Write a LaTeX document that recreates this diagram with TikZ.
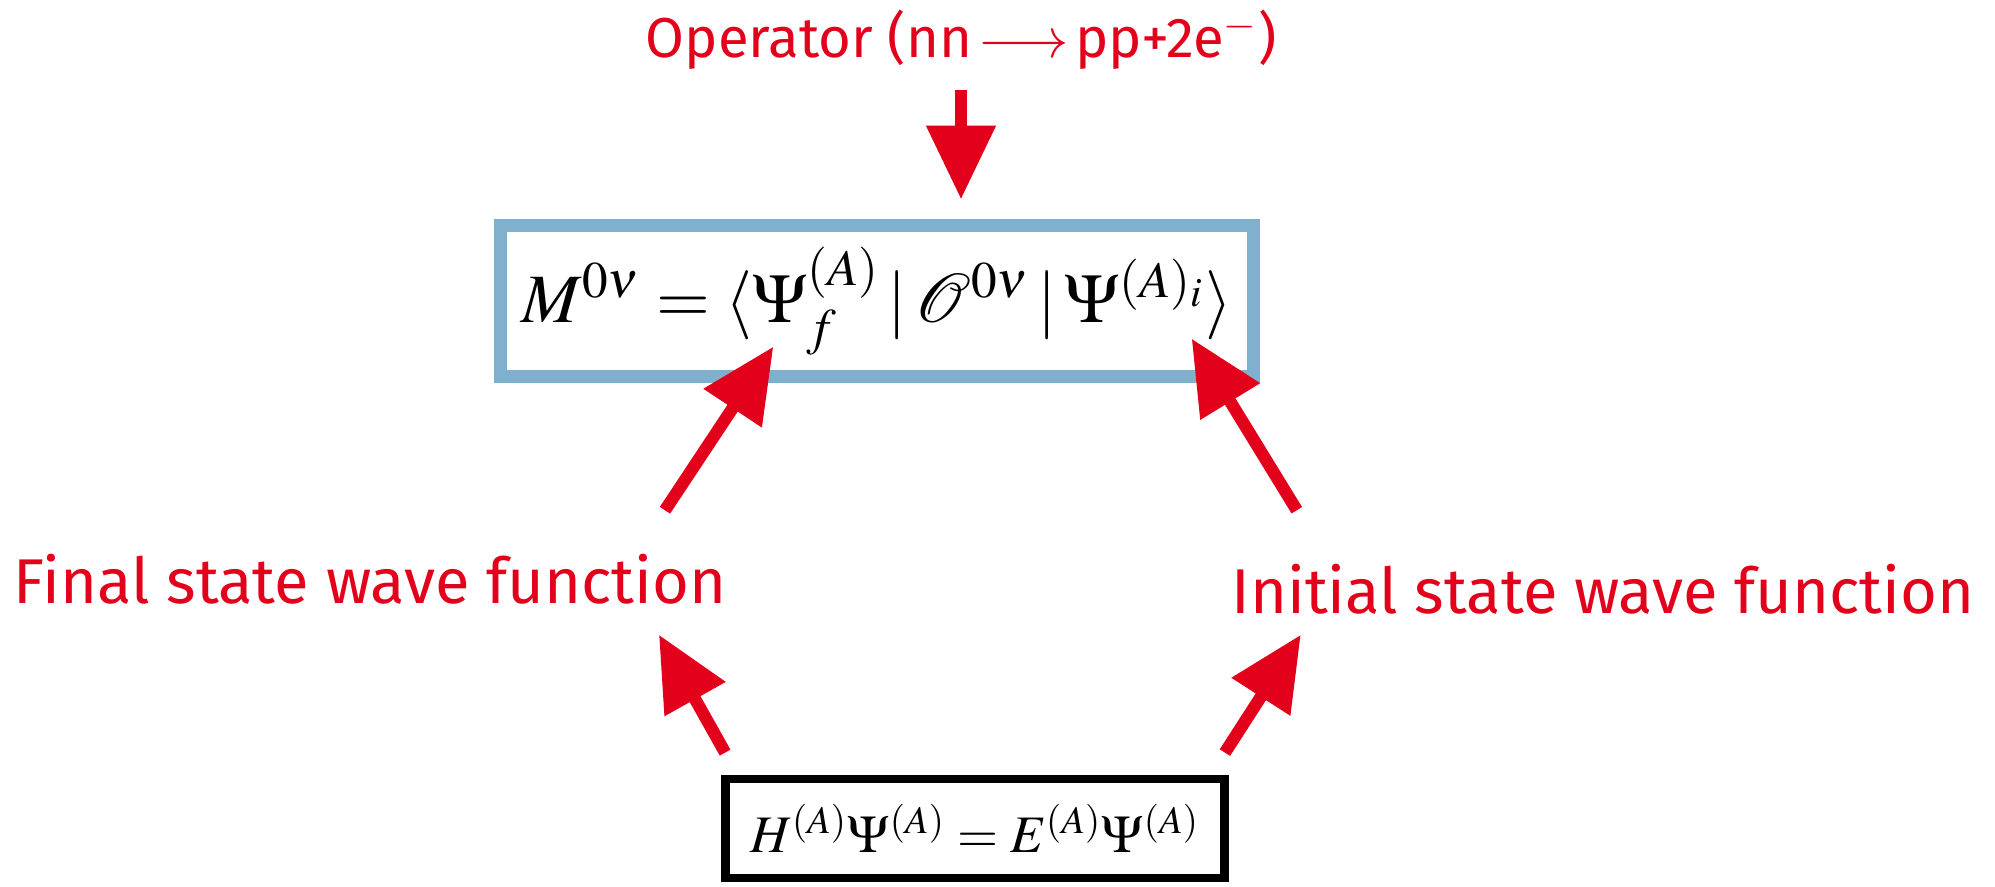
\documentclass[tikz,border=0pt]{standalone}
\usepackage{mathptmx}
\usepackage[no-math]{fontspec}
\newfontfamily\handfont{Fira Sans}
\usepackage{xcolor}
\definecolor{penred}{HTML}{E3001B}
\definecolor{chalkblue}{HTML}{7FB1CF}
\usetikzlibrary{arrows.meta, positioning, calc}

\begin{document}
\begin{tikzpicture}

\tikzset{
  handlbl/.style={font=\handfont\fontsize{18}{20}\selectfont, penred, inner sep=0pt},
  redarrow/.style={-{Triangle[length=21pt, width=19pt]}, penred, line width=3.5pt},
  mebox/.style={draw=chalkblue, line width=3.5pt, minimum width=7.53cm, minimum height=1.51cm, inner sep=0pt},
  eigbox/.style={draw=black, line width=2.5pt, minimum width=4.99cm, minimum height=0.99cm, inner sep=0pt},
}

  \useasboundingbox (0,0) rectangle (19.95,8.86);

  % ── Operator on top ───────────────────────────────────────
  \node[handlbl, font=\handfont\fontsize{16}{18}\selectfont] (op) at (9.61, 8.46)
    {Operator (nn$\,\longrightarrow\,$pp+2e$^{-}$)};

  % ── Matrix element ────────────────────────────────────────
  \node[mebox, font=\fontsize{19.7}{23}\selectfont] (matrixel) at (8.77, 5.85)
    {$M^{0\nu} = \langle \Psi^{(A)}_{f} \,|\, \mathcal{O}^{0\nu} \,|\, \Psi^{(A)_{i}} \rangle$};

  % ── Wave function labels ──────────────────────────────────
  \node[handlbl] (final) at (3.70, 3.07) {Final state wave function};
  \node[handlbl] (initial) at (16.03, 2.97) {Initial state wave function};

  % ── Schroedinger equation ─────────────────────────────────
  \node[eigbox, font=\fontsize{15}{18}\selectfont] (schrod) at (9.75, 0.575)
    {$H^{(A)}\Psi^{(A)} = E^{(A)}\Psi^{(A)}$};

  % ── Arrows ────────────────────────────────────────────────
  \draw[redarrow, shorten <=0.2cm, shorten >=0.2cm]
    (op.south) -- (op.south |- matrixel.north);

  \draw[redarrow]
    ([shift={(-0.62,0.43)}]final.north east) -- ([shift={(2.79,0.36)}]matrixel.south west);
  \draw[redarrow]
    ([shift={(0.66,0.53)}]initial.north west) -- ([shift={(-0.68,0.44)}]matrixel.south east);

  \draw[redarrow]
    ([shift={(0.04,0.22)}]schrod.north west) -- ([shift={(-0.68,-0.30)}]final.south east);
  \draw[redarrow]
    ([shift={(-0.04,0.22)}]schrod.north east) -- ([shift={(0.70,-0.20)}]initial.south west);

\end{tikzpicture}
\end{document}
